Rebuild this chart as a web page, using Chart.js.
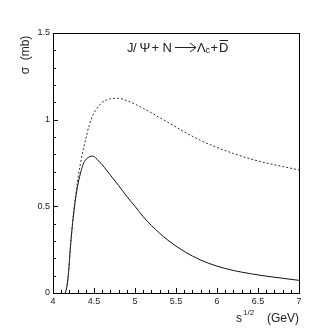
<!DOCTYPE html>
<html>
<head>
<meta charset="utf-8">
<script src="https://cdn.jsdelivr.net/npm/chart.js@4"></script>
<style>
  html, body { margin: 0; padding: 0; background: #fff; }
  #wrap { width: 332px; height: 332px; }
</style>
</head>
<body>
<div id="wrap"><canvas id="sigma"></canvas></div>
<script>
// sqrt(s) in GeV
const energies = [4.15, 4.17, 4.19, 4.21, 4.23, 4.25, 4.28, 4.31, 4.34, 4.37, 4.40, 4.44, 4.48, 4.52, 4.56, 4.6, 4.65, 4.7, 4.8, 4.9, 5.0, 5.1, 5.2, 5.3, 5.4, 5.6, 5.8, 6.0, 6.2, 6.4, 6.6, 6.8, 7.0];
// cross sections in mb
const sigmaSolid = [0, 0.04, 0.12, 0.25, 0.36, 0.45, 0.56, 0.64, 0.70, 0.745, 0.77, 0.785, 0.79, 0.78, 0.76, 0.74, 0.71, 0.68, 0.62, 0.557, 0.50, 0.44, 0.39, 0.345, 0.305, 0.24, 0.19, 0.155, 0.13, 0.112, 0.097, 0.085, 0.073];
const sigmaDotted = [0, 0.04, 0.12, 0.25, 0.36, 0.46, 0.58, 0.68, 0.76, 0.83, 0.89, 0.965, 1.02, 1.055, 1.08, 1.10, 1.113, 1.12, 1.123, 1.11, 1.09, 1.065, 1.04, 1.012, 0.985, 0.93, 0.88, 0.84, 0.805, 0.775, 0.75, 0.73, 0.71];
const xTicks = [4, 4.5, 5, 5.5, 6, 6.5, 7];
const yTicks = [0, 0.5, 1, 1.5];

const FONT = "'Liberation Sans', Arial, sans-serif";

const toPoints = (ys) => energies.map((x, i) => ({ x: x, y: ys[i] }));

// box, inward ticks and the physics labels
const frame = {
  id: "frame",
  afterDraw(chart) {
    const ctx = chart.ctx;
    const a = chart.chartArea;
    const xs = chart.scales.x;
    const ys = chart.scales.y;
    ctx.save();
    ctx.strokeStyle = "#000";
    ctx.lineWidth = 1;
    ctx.strokeRect(a.left + 0.5, a.top + 0.5, a.right - a.left, a.bottom - a.top);

    ctx.beginPath();
    for (let i = 0; i <= 30; i++) {
      const v = 4 + i * 0.1;
      const px = Math.round(xs.getPixelForValue(v)) + 0.5;
      const len = i % 5 === 0 ? 5 : 3;
      ctx.moveTo(px, a.bottom);
      ctx.lineTo(px, a.bottom - len);
    }
    for (let i = 0; i <= 15; i++) {
      const v = i * 0.1;
      const py = Math.round(ys.getPixelForValue(v)) + 0.5;
      const len = i % 5 === 0 ? 5 : 3;
      ctx.moveTo(a.left, py);
      ctx.lineTo(a.left + len, py);
    }
    ctx.stroke();

    ctx.fillStyle = "#222";
    ctx.strokeStyle = "#222";
    ctx.textBaseline = "alphabetic";

    // reaction label, glyph by glyph
    const base = 52;
    ctx.font = "13px " + FONT;
    [["J", 127], ["/", 133], ["\u03A8", 139.5], ["+", 151.5], ["N", 162.5]].forEach(([t, px]) => {
      ctx.fillText(t, px, base);
    });
    ctx.beginPath();
    ctx.moveTo(175, base - 4.5);
    ctx.lineTo(196, base - 4.5);
    ctx.moveTo(190, base - 9);
    ctx.lineTo(196, base - 4.5);
    ctx.lineTo(190, base);
    ctx.stroke();
    ctx.fillText("\u039B", 197, base);
    ctx.font = "9px " + FONT;
    ctx.fillText("c", 205.5, base + 1);
    ctx.font = "13px " + FONT;
    ctx.fillText("+", 210.5, base);
    ctx.fillText("D", 219, base);
    ctx.beginPath();
    ctx.moveTo(219.5, base - 11.5);
    ctx.lineTo(228, base - 11.5);
    ctx.stroke();

    // x title
    const xb = 322;
    ctx.font = "12px " + FONT;
    ctx.fillText("s", 236, xb);
    ctx.font = "8px " + FONT;
    ctx.fillText("1/2", 243, xb - 7);
    ctx.font = "12px " + FONT;
    ctx.textAlign = "right";
    ctx.fillText("(GeV)", 299, xb);

    // y title
    ctx.translate(29, 55);
    ctx.rotate(-Math.PI / 2);
    ctx.textAlign = "center";
    ctx.font = "12px " + FONT;
    ctx.fillText("\u03C3  (mb)", 0, 0);
    ctx.restore();
  },
};

new Chart(document.getElementById("sigma"), {
  type: "line",
  data: {
    datasets: [
      {
        label: "dotted",
        data: toPoints(sigmaDotted),
        borderColor: "#333",
        borderWidth: 1,
        borderDash: [2, 2],
        pointRadius: 0,
        cubicInterpolationMode: "monotone",
        fill: false,
      },
      {
        label: "solid",
        data: toPoints(sigmaSolid),
        borderColor: "#111",
        borderWidth: 1,
        pointRadius: 0,
        cubicInterpolationMode: "monotone",
        fill: false,
      },
    ],
  },
  options: {
    responsive: true,
    maintainAspectRatio: false,
    animation: false,
    layout: { padding: { left: 0, right: 33, top: 33, bottom: 0 } },
    plugins: { legend: { display: false }, tooltip: { enabled: false } },
    scales: {
      x: {
        type: "linear",
        min: 4,
        max: 7,
        afterFit: (s) => { s.height = 39; },
        afterBuildTicks: (s) => { s.ticks = xTicks.map((v) => ({ value: v })); },
        grid: { display: false, drawTicks: false },
        border: { display: true, color: "#000" },
        ticks: {
          padding: 3,
          color: "#222",
          font: { family: FONT, size: 9 },
          maxRotation: 0,
          callback: (v) => String(v),
        },
      },
      y: {
        min: 0,
        max: 1.5,
        afterFit: (s) => { s.width = 53; },
        afterBuildTicks: (s) => { s.ticks = yTicks.map((v) => ({ value: v })); },
        grid: { display: false, drawTicks: false },
        border: { display: true, color: "#000" },
        ticks: {
          padding: 3,
          color: "#222",
          font: { family: FONT, size: 9 },
          callback: (v) => String(v),
        },
      },
    },
  },
  plugins: [frame],
});
</script>
</body>
</html>
